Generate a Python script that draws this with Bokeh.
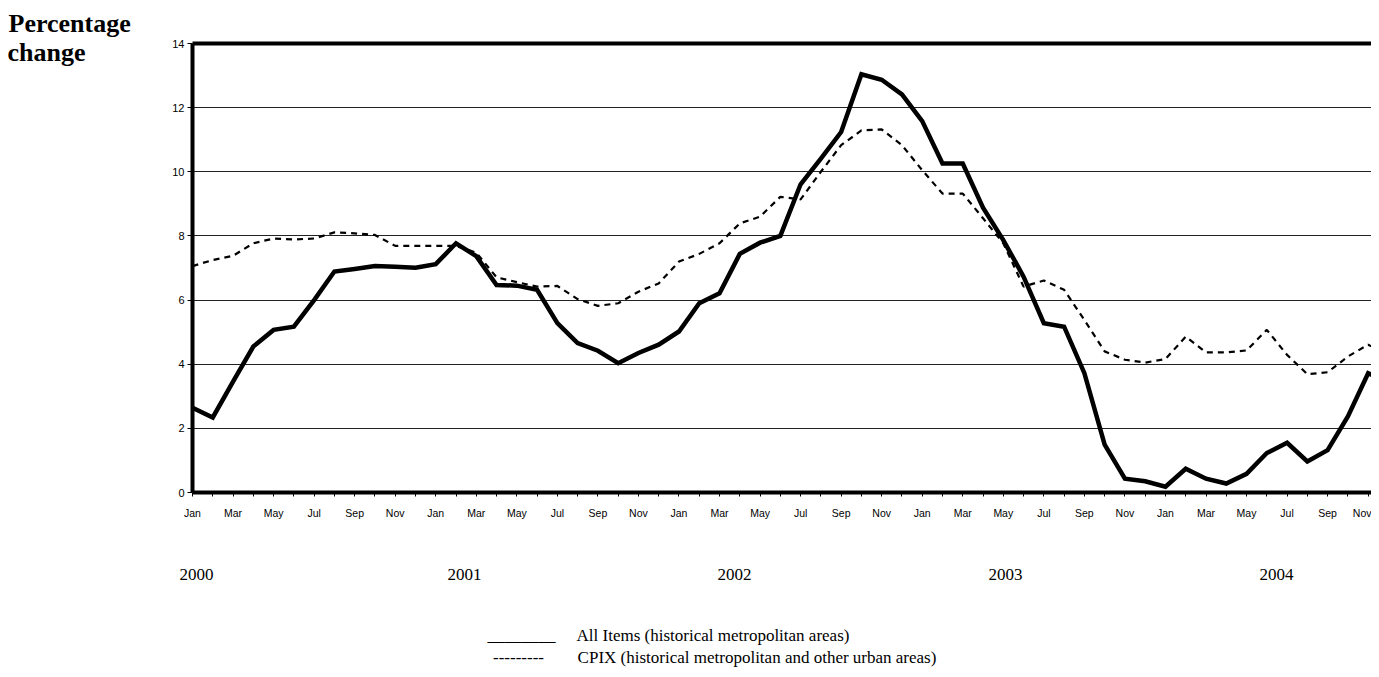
from bokeh.plotting import figure
from bokeh.models import (Range1d, LinearAxis, FixedTicker, ColumnDataSource, Grid)
from bokeh.embed import file_html
from bokeh.resources import INLINE

# ---------------- data ----------------
month_names = ["Jan", "Feb", "Mar", "Apr", "May", "Jun",
               "Jul", "Aug", "Sep", "Oct", "Nov", "Dec"]
years = ["2000", "2001", "2002", "2003", "2004"]

all_items = [
    2.64, 2.34, 3.46, 4.55, 5.07, 5.17, 6.00, 6.89, 6.97, 7.06, 7.04, 7.01,
    7.12, 7.77, 7.37, 6.47, 6.45, 6.32, 5.28, 4.66, 4.42, 4.03, 4.35, 4.61,
    5.02, 5.90, 6.21, 7.44, 7.79, 8.00, 9.61, 10.41, 11.24, 13.04, 12.87, 12.41,
    11.58, 10.26, 10.26, 8.88, 7.87, 6.73, 5.28, 5.17, 3.72, 1.49, 0.43, 0.35,
    0.18, 0.74, 0.43, 0.28, 0.58, 1.23, 1.55, 0.97, 1.32, 2.37, 3.72, 3.44,
]
cpix = [
    7.06, 7.25, 7.38, 7.77, 7.92, 7.89, 7.92, 8.11, 8.08, 8.03, 7.69, 7.69,
    7.69, 7.69, 7.48, 6.71, 6.56, 6.42, 6.44, 6.03, 5.82, 5.90, 6.26, 6.52,
    7.20, 7.44, 7.77, 8.39, 8.60, 9.22, 9.14, 10.00, 10.83, 11.29, 11.32, 10.83,
    10.05, 9.32, 9.32, 8.55, 7.77, 6.42, 6.61, 6.32, 5.38, 4.40, 4.14, 4.05,
    4.16, 4.86, 4.37, 4.37, 4.43, 5.07, 4.29, 3.69, 3.75, 4.24, 4.61, 4.28,
]
y_ticks = [0, 2, 4, 6, 8, 10, 12, 14]
title_lines = ["Percentage", "change"]
legend_marks = ["________", "---------"]
legend_texts = ["All Items (historical metropolitan areas)",
                "CPIX (historical metropolitan and other urban areas)"]

n = len(all_items)
idx = list(range(n))
month_labels = [month_names[i % 12] for i in idx]

# ---------------- layout constants ----------------
W, H = 1371, 669
LEFT, TOP, FRAME_H = 192, 43, 450
PX_PER_MONTH = 20.27
x_end = (W - LEFT) / PX_PER_MONTH


def px_to_month(px):
    return (px - LEFT) / PX_PER_MONTH


SANS = "Liberation Sans"
SERIF = "Liberation Serif"

p = figure(width=W, height=H, output_backend="svg", toolbar_location=None,
           x_range=Range1d(0, x_end), y_range=Range1d(0, 14),
           min_border_left=LEFT, min_border_right=0, min_border_top=TOP,
           min_border_bottom=H - TOP - FRAME_H, x_axis_type=None, y_axis_type=None)
p.outline_line_color = None
p.background_fill_color = "white"
p.border_fill_color = "white"

# title line 1 (plot title, shifted to the page's left edge)
p.title.text = title_lines[0]
p.title.align = "left"
p.title.offset = 8 - LEFT
p.title.text_font = SERIF
p.title.text_font_style = "bold"
p.title.text_font_size = "26px"
p.title.text_color = "black"
p.title.standoff = 12

# left axis
yaxis = LinearAxis(ticker=FixedTicker(ticks=y_ticks))
yaxis.axis_line_width = 4
yaxis.axis_line_color = "black"
yaxis.major_tick_out = 5
yaxis.major_tick_in = 0
yaxis.minor_tick_line_color = None
yaxis.major_label_text_font = SANS
yaxis.major_label_text_font_size = "11px"
yaxis.major_label_text_color = "black"
yaxis.major_label_standoff = 3
p.add_layout(yaxis, "left")

# title line 2: horizontal label of a bare left axis, aligned to its top end
lab_axis = LinearAxis(ticker=FixedTicker(ticks=[]))
lab_axis.axis_line_color = None
lab_axis.major_tick_line_color = None
lab_axis.minor_tick_line_color = None
lab_axis.major_tick_out = 0
lab_axis.major_tick_in = 0
lab_axis.major_label_standoff = 0
lab_axis.major_label_text_font_size = "0px"
lab_axis.axis_label = "\n" + title_lines[1]
lab_axis.axis_label_orientation = "horizontal"
lab_axis.axis_label_align = "end"
lab_axis.axis_label_text_font = SERIF
lab_axis.axis_label_text_font_style = "bold"
lab_axis.axis_label_text_font_size = "26px"
lab_axis.axis_label_text_line_height = 0.6
lab_axis.axis_label_text_color = "black"
lab_axis.axis_label_standoff = 84
p.add_layout(lab_axis, "left")

# bottom axis: tick each month, label every other month
xaxis = LinearAxis(ticker=FixedTicker(ticks=idx))
xaxis.axis_line_width = 4
xaxis.axis_line_color = "black"
xaxis.major_tick_out = 4
xaxis.major_tick_in = 0
xaxis.minor_tick_line_color = None
xaxis.major_label_overrides = {i: (month_labels[i] if i % 2 == 0 else "") for i in idx}
xaxis.major_label_text_font = SANS
xaxis.major_label_text_font_size = "10.5px"
xaxis.major_label_text_color = "black"
xaxis.major_label_standoff = 10
p.add_layout(xaxis, "below")

# year labels row
year_pos = [px_to_month(c) for c in (196, 464, 734, 1005, 1276)]
yr_axis = LinearAxis(ticker=FixedTicker(ticks=year_pos))
yr_axis.axis_line_color = None
yr_axis.major_tick_line_color = None
yr_axis.minor_tick_line_color = None
yr_axis.major_tick_out = 0
yr_axis.major_tick_in = 0
yr_axis.major_label_overrides = {pos: yr for pos, yr in zip(year_pos, years)}
yr_axis.major_label_text_font = SERIF
yr_axis.major_label_text_font_size = "17px"
yr_axis.major_label_text_color = "black"
yr_axis.major_label_standoff = 47
p.add_layout(yr_axis, "below")

# legend rows (text marks + descriptions)
mark_centers = [521, 518]
text_centers = [712.5, 756.5]
for k, (mark, txt) in enumerate(zip(legend_marks, legend_texts)):
    pos = [px_to_month(mark_centers[k]), px_to_month(text_centers[k])]
    ax = LinearAxis(ticker=FixedTicker(ticks=pos))
    ax.axis_line_color = None
    ax.major_tick_line_color = None
    ax.minor_tick_line_color = None
    ax.major_tick_out = 0
    ax.major_tick_in = 0
    ax.major_label_overrides = {pos[0]: mark, pos[1]: txt}
    ax.major_label_text_font = SERIF
    ax.major_label_text_font_size = "17px"
    ax.major_label_text_color = "black"
    ax.major_label_standoff = 43 if k == 0 else 0
    p.add_layout(ax, "below")

# top border as an axis line
top = LinearAxis(ticker=FixedTicker(ticks=[]))
top.axis_line_width = 4
top.axis_line_color = "black"
top.major_tick_line_color = None
top.minor_tick_line_color = None
top.major_label_text_font_size = "0px"
p.add_layout(top, "above")

# grid
g = Grid(dimension=1, ticker=FixedTicker(ticks=y_ticks[1:-1]))
g.grid_line_color = "#222222"
g.grid_line_width = 1
p.add_layout(g)

src = ColumnDataSource(dict(x=idx, all_items=all_items, cpix=cpix))
p.line("x", "cpix", source=src, line_color="black", line_width=2.2, line_dash="6 5")
p.line("x", "all_items", source=src, line_color="black", line_width=4.5, line_join="miter")

open("out.html", "w").write(file_html(p, INLINE))
